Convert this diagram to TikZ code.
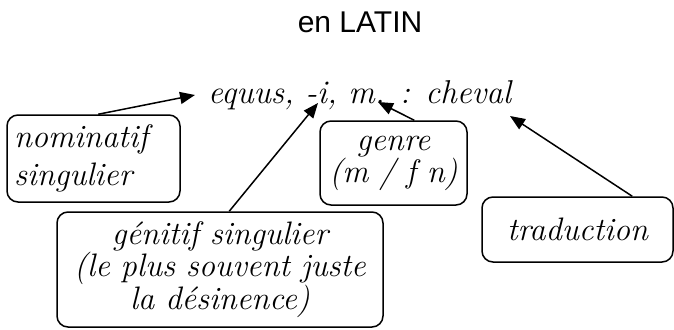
\documentclass[tikz,border=0pt]{standalone}
\usepackage{fontspec}
\newfontfamily\titlefont{Liberation Sans}
\usetikzlibrary{arrows.meta,calc}
\begin{document}
\begin{tikzpicture}[x=1pt,y=-1pt,
  box/.style={draw,line width=1.5pt,rounded corners=11pt,inner sep=0pt,
    font=\fontsize{32.5}{30}\itshape\selectfont},
  arr/.style={line width=1.5pt,-{Triangle[length=15pt,width=12pt]}},
]
\useasboundingbox (0,0) rectangle (674,329);
\node[anchor=base,inner sep=0pt,font=\titlefont\fontsize{30}{36}\selectfont] (title) at (360,33) {en LATIN};
\node[anchor=base west,inner sep=0pt,font=\fontsize{33}{36}\itshape\selectfont] (main) at (208,103) {equus, -i, m. : cheval};
\node[box,minimum width=173pt,minimum height=87pt,text width=159pt,align=left] (nom) at (93.5,158.5) {nominatif\\[8pt]singulier};
\node[box,minimum width=147pt,minimum height=84pt,text width=140pt,align=center] (genre) at (393.5,163) {genre\\(m / f n)};
\node[box,minimum width=326pt,minimum height=115pt,text width=320pt,align=center] (gen) at (220,269.5) {génitif singulier\\(le plus souvent juste\\la désinence)};
\node[box,minimum width=191pt,minimum height=65pt] (trad) at (577.5,229.5) {traduction};
\coordinate (t1) at (195,95);
\coordinate (t2) at (318,103);
\coordinate (t3) at (378,102);
\coordinate (t4) at (510,116);
\draw[arr] ($(nom.north west)+(92,0)$) -- (t1);
\draw[arr] ($(gen.north west)+(173,0)$) -- (t2);
\draw[arr] ($(genre.north west)+(95,0)$) -- (t3);
\draw[arr] ($(trad.north west)+(151,0)$) -- (t4);
\end{tikzpicture}
\end{document}
